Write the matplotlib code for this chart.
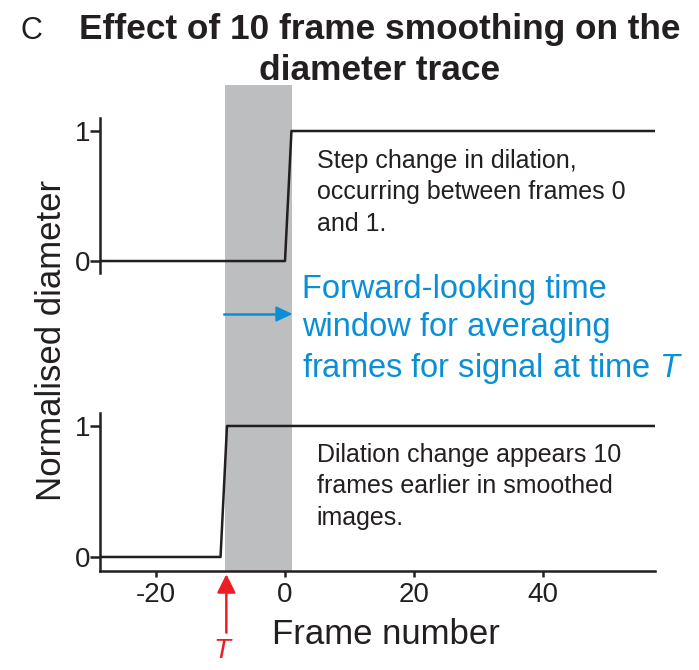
import matplotlib.pyplot as plt

plt.rcParams['font.family'] = ['Liberation Sans', 'DejaVu Sans']
plt.rcParams['axes.unicode_minus'] = False
plt.rcParams['mathtext.fontset'] = 'custom'
plt.rcParams['mathtext.it'] = 'Liberation Sans:italic'

# Traces (frame number vs normalised diameter)
raw_frames = [-29, 0, 1, 58]
raw_diam = [0, 0, 1, 1]
smooth_frames = [-29, -10, -9, 58]
smooth_diam = [0, 0, 1, 1]

# Averaging window and the time point T
window = (-9.3, 1.1)
t_frame = -9.1
x_ticks = [-20, 0, 20, 40]
y_ticks = [0, 1]
xlim = (-28.7, 57.4)

W, H = 699, 670
fig = plt.figure(figsize=(W / 100, H / 100), dpi=100)

def fx(px):
    return px / W

def fy(py):
    return 1 - py / H

left, right = fx(100), fx(655)
black = '#231f20'
blue = '#0a8fd6'
red = '#ee1c25'
grey = '#bcbec0'

# background axes holding the grey window across both panels
bg = fig.add_axes([left, fy(571), right - left, fy(85) - fy(571)], zorder=0)
bg.set_xlim(xlim)
bg.set_ylim(0, 1)
bg.axvspan(*window, color=grey, lw=0)
bg.axis('off')

ax_top = fig.add_axes([left, fy(273), right - left, fy(118) - fy(273)], zorder=1)
ax_bot = fig.add_axes([left, fy(571), right - left, fy(413) - fy(571)], zorder=1)

for ax in (ax_top, ax_bot):
    ax.patch.set_visible(False)
    ax.set_xlim(xlim)
    ax.spines['top'].set_visible(False)
    ax.spines['right'].set_visible(False)
    ax.spines['left'].set_linewidth(1.8)
    ax.spines['left'].set_color(black)
    ax.set_yticks(y_ticks)
    ax.tick_params(axis='y', direction='out', length=7, width=1.8, colors=black,
                   labelsize=20, pad=0)

ax_top.set_ylim(-0.092, 1.1)
ax_top.spines['bottom'].set_visible(False)
ax_top.set_xticks([])
ax_top.plot(raw_frames, raw_diam, color=black, lw=1.8)

ax_bot.set_ylim(-0.107, 1.099)
ax_bot.spines['bottom'].set_linewidth(1.8)
ax_bot.spines['bottom'].set_color(black)
ax_bot.set_xticks(x_ticks)
ax_bot.tick_params(axis='x', direction='out', length=4, width=1.8, colors=black,
                   labelsize=20, pad=4)
ax_bot.plot(smooth_frames, smooth_diam, color=black, lw=1.8)

# annotations
ax_top.text(4.9, 0.53, 'Step change in dilation,\noccurring between frames 0\nand 1.',
            fontsize=18, color=black, linespacing=1.4, va='center', ha='left')
ax_bot.text(4.9, 0.54, 'Dilation change appears 10\nframes earlier in smoothed\nimages.',
            fontsize=18, color=black, linespacing=1.4, va='center', ha='left')

fig.text(fx(302), fy(330), 'Forward-looking time\nwindow for averaging\nframes for signal at time $\\mathit{T}$',
         fontsize=23.5, color=blue, linespacing=1.3, va='center', ha='left')
fig.add_artist(plt.Line2D([fx(224), fx(280)], [fy(314), fy(314)], color=blue, lw=1.8))
fig.patches.append(plt.Polygon([[fx(291), fy(314)], [fx(276), fy(307)], [fx(276), fy(321)]],
                               closed=True, color=blue, transform=fig.transFigure))

# red arrow marking T
ax_bot.annotate('', xy=(t_frame, -0.02), xycoords=('data', 'axes fraction'),
                xytext=(t_frame, -0.39), textcoords=('data', 'axes fraction'),
                arrowprops=dict(arrowstyle='-|>', color=red, lw=1.8,
                                mutation_scale=28, shrinkA=0, shrinkB=0))
fig.text(fx(222), fy(638), 'T', color=red, fontsize=20, style='italic',
         ha='center', va='top')

# labels and title
fig.text(fx(386), fy(634), 'Frame number', fontsize=25, color=black, ha='center', va='center')
fig.text(fx(52), fy(340), 'Normalised diameter', fontsize=25, color=black,
         rotation=90, ha='center', va='center')
fig.text(fx(380), fy(50), 'Effect of 10 frame smoothing on the\ndiameter trace',
         fontsize=25.4, fontweight='bold', color=black, ha='center', va='center',
         linespacing=1.3)
fig.text(fx(20), fy(31), 'C', fontsize=22, color=black, ha='left', va='center')

fig.savefig('out.png', dpi=100)
